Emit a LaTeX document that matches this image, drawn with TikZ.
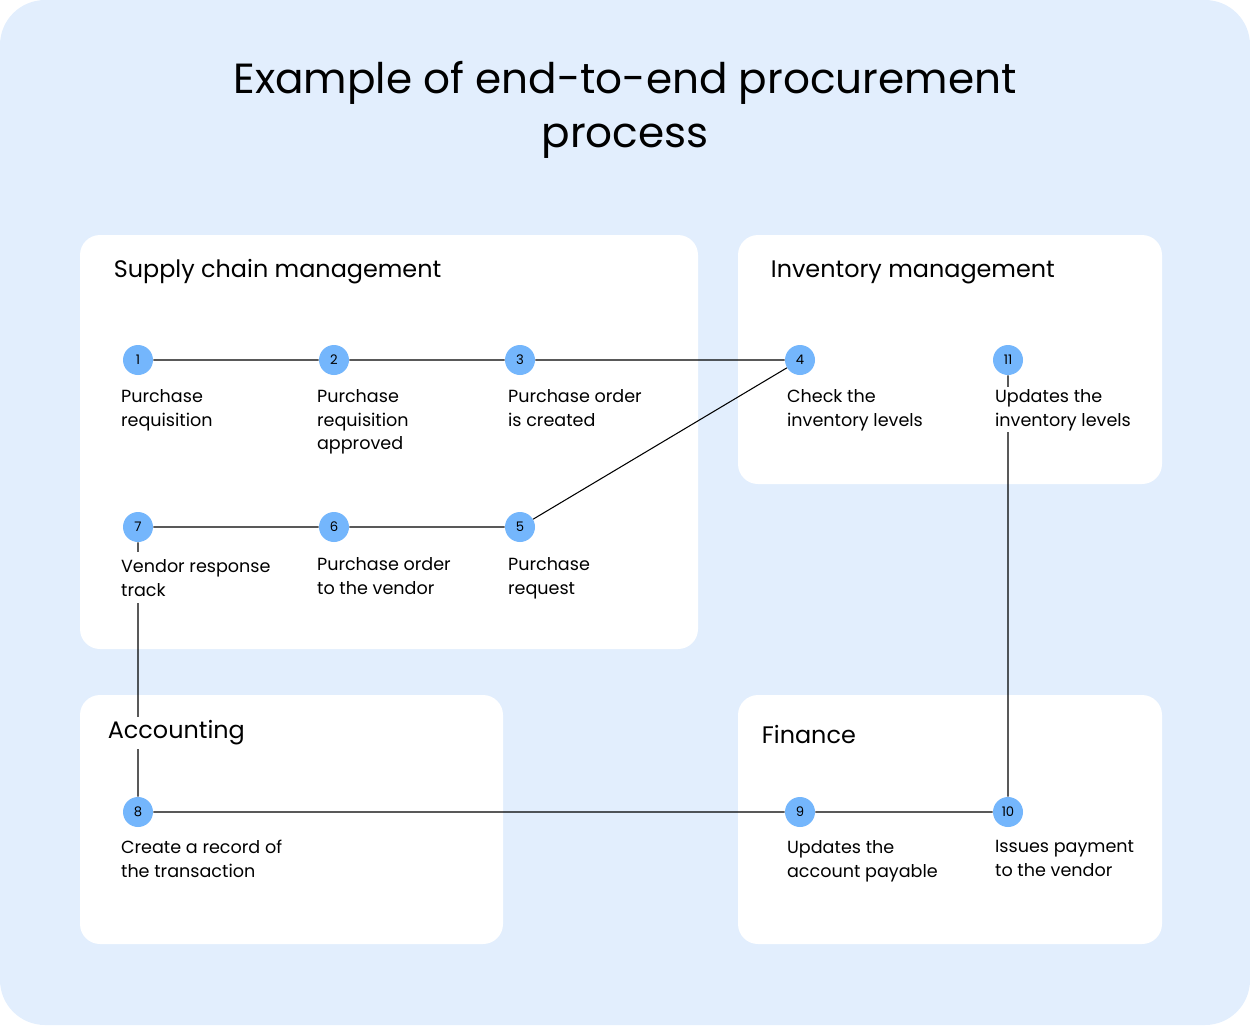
\documentclass[tikz,border=0pt]{standalone}
\usepackage{fontspec}
\setmainfont{Poppins}
\definecolor{bgblue}{HTML}{E2EEFD}
\definecolor{dotblue}{HTML}{74B6FC}
\begin{document}
\begin{tikzpicture}[x=0.02cm,y=-0.02cm,
  box/.style={fill=white,rounded corners=0.4cm},
  dot/.style={circle,fill=dotblue,minimum size=0.6cm,inner sep=0pt,font=\fontsize{7.5}{8}\selectfont},
  lab/.style={anchor=north west,align=left,fill=white,inner sep=1pt,font=\fontsize{10}{13.6}\selectfont},
  sec/.style={anchor=west,fill=white,inner sep=2pt,font=\fontsize{13.6}{16}\selectfont},
  conn/.style={line width=0.6pt}]
\useasboundingbox (0,0) rectangle (1250,1025);
\fill[bgblue,rounded corners=0.9cm] (0,0) rectangle (1250,1025);
\node[align=center,font=\fontsize{24}{30.5}\selectfont] (title) at (625,110) {Example of end-to-end procurement\\process};
\fill[box] (80,235) rectangle (698,649);
\fill[box] (738,235) rectangle (1162,484);
\fill[box] (80,695) rectangle (503,944);
\fill[box] (738,695) rectangle (1162,944);
\node[dot] (n1) at (138,360) {1};
\node[dot] (n2) at (334,360) {2};
\node[dot] (n3) at (520,360) {3};
\node[dot] (n4) at (800,360) {4};
\node[dot] (n11) at (1008,360) {11};
\node[dot] (n7) at (138,527) {7};
\node[dot] (n6) at (334,527) {6};
\node[dot] (n5) at (520,527) {5};
\node[dot] (n8) at (138,812) {8};
\node[dot] (n9) at (800,812) {9};
\node[dot] (n10) at (1008,812) {10};
\draw[conn] (n1)--(n2) (n2)--(n3) (n3)--(n4) (n4)--(n5) (n5)--(n6) (n6)--(n7)
  (n7)--(n8) (n8)--(n9) (n9)--(n10) (n11)--(n10);
\node[sec] (s1) at (110,272) {Supply chain management};
\node[sec] (s2) at (767,272) {Inventory management};
\node[sec] (s3) at (104,733) {Accounting};
\node[sec] (s4) at (758,734) {Finance};
\node[lab] (l1) at (119,387) {Purchase\\requisition};
\node[lab] (l2) at (315,387) {Purchase\\requisition\\approved};
\node[lab] (l3) at (506,387) {Purchase order\\is created};
\node[lab] (l4) at (785,387) {Check the\\inventory levels};
\node[lab] (l11) at (993,387) {Updates the\\inventory levels};
\node[lab,inner ysep=4pt] (l7) at (119,552) {Vendor response\\track};
\node[lab] (l6) at (315,555) {Purchase order\\to the vendor};
\node[lab] (l5) at (506,555) {Purchase\\request};
\node[lab] (l8) at (119,838) {Create a record of\\the transaction};
\node[lab] (l9) at (785,838) {Updates the\\account payable};
\node[lab] (l10) at (993,838) {Issues payment\\to the vendor};
\end{tikzpicture}
\end{document}
